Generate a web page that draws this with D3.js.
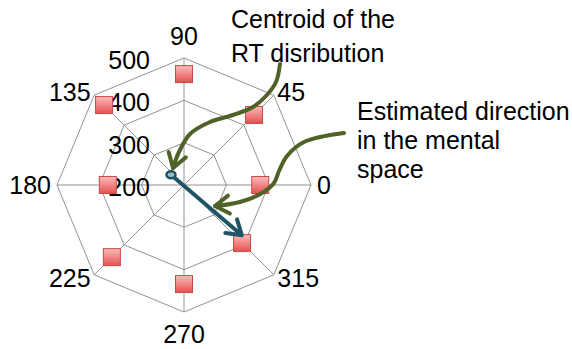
<!DOCTYPE html>
<html>
<head>
<meta charset="utf-8">
<script src="https://cdn.jsdelivr.net/npm/d3@7"></script>
<style>
  html, body { margin: 0; padding: 0; background: #fff; }
  svg { display: block; }
  text { font-family: "Liberation Sans", Arial, Helvetica, sans-serif; fill: #000; }
</style>
</head>
<body>
<svg id="chart" width="572" height="349"></svg>
<script>
// ---- data ----
const directions = [0, 45, 90, 135, 180, 225, 270, 315];
const directionLabels = ["0", "45", "90", "135", "180", "225", "270", "315"];
const rtValues = [380, 434, 462, 467, 380, 441, 434, 394];
const ringTicks = [200, 300, 400, 500];
const ringTickLabels = ["200", "300", "400", "500"];
// centroid of RT distribution & estimated direction (polar: angle deg, value)
const centroid = { angle: 142, value: 239 };
const estimate = { angle: 319, value: 381 };
const noteCentroid = ["Centroid of the", "RT disribution"];
const noteEstimate = ["Estimated direction", "in the mental", "space"];

// ---- layout ----
const W = 572, H = 349;
const cx = 184, cy = 185, R = 127;
const svg = d3.select("#chart");

const r = d3.scaleLinear().domain([200, 500]).range([0, R]);
const toXY = (angleDeg, v) => {
  const a = angleDeg * Math.PI / 180;
  return [cx + r(v) * Math.cos(a), cy - r(v) * Math.sin(a)];
};

// defs
const defs = svg.append("defs");
const grad = defs.append("linearGradient").attr("id", "sq")
  .attr("x1", 0).attr("y1", 0).attr("x2", 0).attr("y2", 1);
grad.append("stop").attr("offset", "0%").attr("stop-color", "#fbbcbc");
grad.append("stop").attr("offset", "100%").attr("stop-color", "#e5504e");

const mk = (id, color) => defs.append("marker").attr("id", id)
  .attr("markerUnits", "userSpaceOnUse")
  .attr("viewBox", "-20 -12 24 24").attr("refX", 0).attr("refY", 0)
  .attr("markerWidth", 24).attr("markerHeight", 24).attr("orient", "auto")
  .append("path").attr("d", "M-14,-9 L0,0 L-14,9")
  .attr("fill", "none").attr("stroke", color).attr("stroke-width", 4)
  .attr("stroke-linecap", "round").attr("stroke-linejoin", "round");
mk("greenHead", "#4f6228");
mk("tealHead", "#1d5566");

// grid rings
const gridColor = "#939393";
ringTicks.filter(t => t > 200).forEach(t => {
  const pts = directions.map(d => toXY(d, t));
  svg.append("polygon").attr("points", pts.map(p => p.join(",")).join(" "))
    .attr("fill", "none").attr("stroke", gridColor).attr("stroke-width", 1);
});
// spokes
directions.forEach(d => {
  const [x, y] = toXY(d, 500);
  svg.append("line").attr("x1", cx).attr("y1", cy).attr("x2", x).attr("y2", y)
    .attr("stroke", gridColor).attr("stroke-width", 1);
});

// direction labels
directions.forEach((d, i) => {
  const a = d * Math.PI / 180;
  const c = Math.cos(a), s = Math.sin(a);
  let off = 6, anchor;
  if (Math.abs(c) < 0.01) { anchor = "middle"; off = 22; }
  else { anchor = c > 0 ? "start" : "end"; off = Math.abs(s) > 0.1 ? 5 : 6; }
  svg.append("text")
    .attr("x", cx + (R + off) * c)
    .attr("y", cy - (R + off) * s)
    .attr("text-anchor", anchor)
    .attr("dominant-baseline", "central")
    .attr("font-size", 25)
    .text(directionLabels[i]);
});

// ring tick labels (along the 90° axis, offset left)
ringTicks.forEach((t, i) => {
  const [, y] = toXY(90, t);
  svg.append("text").attr("x", cx - 34).attr("y", y + 2)
    .attr("text-anchor", "end").attr("dominant-baseline", "central")
    .attr("font-size", 25).text(ringTickLabels[i]);
});

// markers
const sz = 17;
directions.forEach((d, i) => {
  const [x, y] = toXY(d, rtValues[i]);
  svg.append("rect").attr("x", x - sz / 2).attr("y", y - sz / 2)
    .attr("width", sz).attr("height", sz)
    .attr("fill", "url(#sq)").attr("stroke", "#c64b4a").attr("stroke-width", 1);
});

// estimated direction arrow (teal)
const [c0x, c0y] = toXY(centroid.angle, centroid.value);
const [e0x, e0y] = toXY(estimate.angle, estimate.value);
svg.append("line").attr("x1", c0x).attr("y1", c0y).attr("x2", e0x).attr("y2", e0y)
  .attr("stroke", "#1d5566").attr("stroke-width", 4).attr("marker-end", "url(#tealHead)");
svg.append("ellipse").attr("cx", c0x).attr("cy", c0y).attr("rx", 4.5).attr("ry", 3.5)
  .attr("fill", "#9fb7bf").attr("stroke", "#1d5566").attr("stroke-width", 2.5);

// annotation pointers (green)
const line = d3.line().curve(d3.curveCatmullRom.alpha(0.5));
const path1 = [[280, 64], [276, 82], [266, 96], [253, 107], [233, 115], [210, 122], [190, 134], [179, 152], [173, 168]];
const path2 = [[344, 133], [304, 142], [287, 156], [279, 171], [274, 183], [262, 193], [240, 202], [215, 206]];
[path1, path2].forEach(p => {
  svg.append("path").attr("d", line(p)).attr("fill", "none")
    .attr("stroke", "#4f6228").attr("stroke-width", 4).attr("stroke-linecap", "round")
    .attr("marker-end", "url(#greenHead)");
});

// annotation texts
noteCentroid.forEach((t, i) => {
  svg.append("text").attr("x", 231).attr("y", 28 + i * 34).attr("font-size", 25).text(t);
});
noteEstimate.forEach((t, i) => {
  svg.append("text").attr("x", 357).attr("y", 120 + i * 29).attr("font-size", 25).text(t);
});
</script>
</body>
</html>
